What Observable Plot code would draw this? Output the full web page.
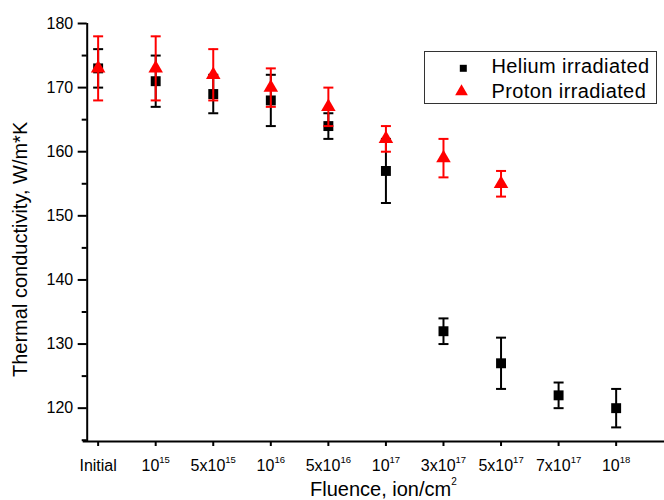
<!DOCTYPE html>
<html>
<head>
<meta charset="utf-8">
<script src="https://cdn.jsdelivr.net/npm/d3@7"></script>
<script src="https://cdn.jsdelivr.net/npm/@observablehq/plot@0.6"></script>
<style>
  body { margin: 0; background: #fff; }
  #chart { position: relative; width: 664px; height: 500px; }
</style>
</head>
<body>
<div id="chart"></div>
<script>
// ---- data ----
const categories = ["Initial", "10^15", "5x10^15", "10^16", "5x10^16", "10^17", "3x10^17", "5x10^17", "7x10^17", "10^18"];
const heliumValues = [173, 171, 169, 168, 164, 157, 132, 127, 122, 120];
const heliumErrors = [3, 4, 3, 4, 2, 5, 2, 4, 2, 3];
const protonValues = [173, 173, 172, 170, 167, 162, 159, 155];
const protonErrors = [5, 5, 4, 3, 3, 2, 3, 2];
const majorYTicks = [120, 130, 140, 150, 160, 170, 180];
const minorYTicks = [115, 125, 135, 145, 155, 165, 175];
const seriesNames = ["Helium irradiated", "Proton irradiated"];
const xTitle = "Fluence, ion/cm^2";
const yTitle = "Thermal conductivity, W/m*K";

// ---- layout ----
const xDomain = [-0.19, 9.84];
const yDomain = [114.8, 180];
const font = "'Liberation Sans', Arial, sans-serif";
const RED = "#ff0000";

const helium = heliumValues.map((v, i) => ({i, v, lo: v - heliumErrors[i], hi: v + heliumErrors[i]}));
const proton = protonValues.map((v, i) => ({i, v, lo: v - protonErrors[i], hi: v + protonErrors[i]}));

const cap = {
  draw(ctx, size) {
    const w = Math.sqrt(size / Math.PI);
    ctx.moveTo(-w, 0);
    ctx.lineTo(w, 0);
  }
};

const plot = Plot.plot({
  width: 664,
  height: 500,
  marginLeft: 86.7,
  marginRight: 0,
  marginTop: 23,
  marginBottom: 59,
  style: {fontFamily: font, background: "white", color: "black", overflow: "visible"},
  x: {type: "linear", domain: xDomain},
  y: {type: "linear", domain: yDomain},
  marks: [
    Plot.axisY(majorYTicks, {tickSize: 9, tickPadding: 5, fontSize: 16, strokeWidth: 2, label: null}),
    Plot.axisY(minorYTicks, {tickSize: 5, tickFormat: () => "", strokeWidth: 2, label: null}),
    Plot.axisX(d3.range(categories.length), {tickSize: 5, tickPadding: 13.5, fontSize: 16, strokeWidth: 2,
      tickFormat: i => categories[i], label: null}),
    Plot.ruleX([xDomain[0]], {strokeWidth: 2}),
    Plot.ruleY([yDomain[0]], {strokeWidth: 2, insetLeft: -4}),
    // helium
    Plot.ruleX(helium, {x: "i", y1: "lo", y2: "hi", stroke: "black", strokeWidth: 2}),
    Plot.dot(helium, {x: "i", y: "lo", symbol: cap, r: 5, stroke: "black", strokeWidth: 2, fill: "none"}),
    Plot.dot(helium, {x: "i", y: "hi", symbol: cap, r: 5, stroke: "black", strokeWidth: 2, fill: "none"}),
    Plot.dot(helium, {x: "i", y: "v", symbol: "square", r: 5.6, fill: "black", stroke: "none"}),
    // proton
    Plot.ruleX(proton, {x: "i", y1: "lo", y2: "hi", stroke: RED, strokeWidth: 2}),
    Plot.dot(proton, {x: "i", y: "lo", symbol: cap, r: 5, stroke: RED, strokeWidth: 2, fill: "none"}),
    Plot.dot(proton, {x: "i", y: "hi", symbol: cap, r: 5, stroke: RED, strokeWidth: 2, fill: "none"}),
    Plot.dot(proton, {x: "i", y: "v", symbol: "triangle", r: 5.4, fill: RED, stroke: "none"})
  ]
});

const svg = d3.select(plot);

// superscripts in x tick labels
svg.selectAll('g[aria-label="x-axis tick label"] text').each(function() {
  const t = d3.select(this);
  const s = t.text();
  if (s.includes("^")) {
    const [base, sup] = s.split("^");
    t.text("");
    t.append("tspan").text(base);
    t.append("tspan").attr("font-size", 9.5).attr("dy", -8.5).text(sup);
  }
});

// axis titles
function addSupText(sel, str, supSize, supDy) {
  const [base, sup] = str.split("^");
  sel.append("tspan").text(base);
  if (sup !== undefined) sel.append("tspan").attr("font-size", supSize).attr("dy", supDy).text(sup);
}
const xt = svg.append("text")
  .attr("x", 310).attr("y", 496).attr("text-anchor", "start")
  .attr("font-family", font).attr("font-size", 20).attr("fill", "black");
addSupText(xt, xTitle, 10, -11);

svg.append("text")
  .attr("transform", "translate(27.3,377) rotate(-90)").attr("text-anchor", "start")
  .attr("font-family", font).attr("font-size", 20).attr("fill", "black")
  .text(yTitle);

// legend
const lg = svg.append("g");
lg.append("rect").attr("x", 424.5).attr("y", 51.5).attr("width", 232).attr("height", 52)
  .attr("fill", "white").attr("stroke", "#333").attr("stroke-width", 1);
lg.append("path").attr("transform", "translate(463.3,68.3)")
  .attr("d", d3.symbol(d3.symbolSquare, 49)()).attr("fill", "black");
lg.append("path").attr("transform", "translate(461.5,91.5)")
  .attr("d", d3.symbol(d3.symbolTriangle, 70)()).attr("fill", RED);
seriesNames.forEach((name, k) => {
  lg.append("text").attr("x", 491.5).attr("y", 73.3 + 25 * k).attr("text-anchor", "start")
    .attr("letter-spacing", 0.4)
    .attr("font-family", font).attr("font-size", 20).attr("fill", "black").text(name);
});

document.getElementById("chart").appendChild(plot);
</script>
</body>
</html>
